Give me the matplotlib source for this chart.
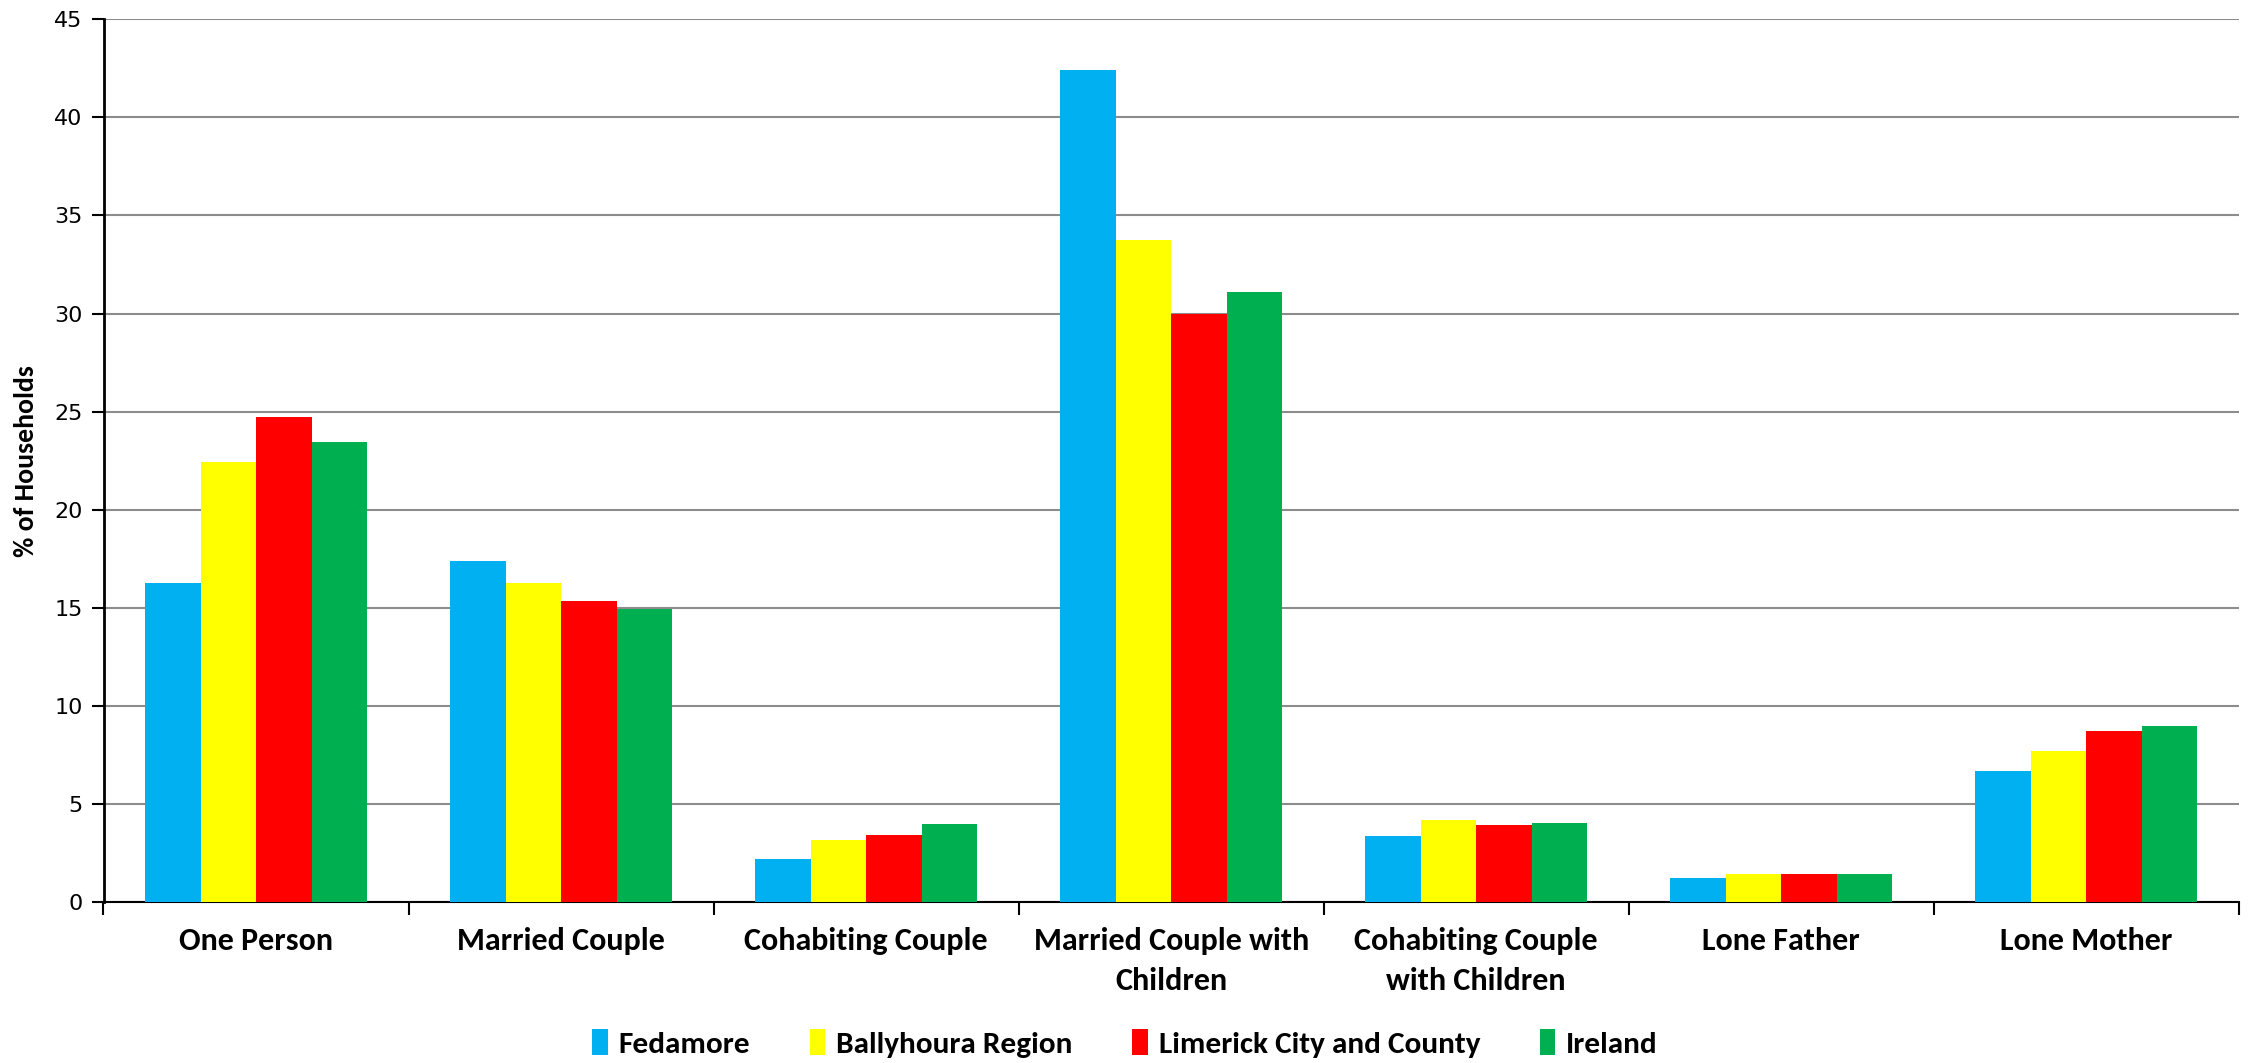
import matplotlib
matplotlib.use("Agg")
import matplotlib.pyplot as plt
import numpy as np

categories = ["One Person", "Married Couple", "Cohabiting Couple", "Married Couple with\nChildren",
              "Cohabiting Couple\nwith Children", "Lone Father", "Lone Mother"]
series_names = ["Fedamore", "Ballyhoura Region", "Limerick City and County", "Ireland"]
fedamore = [16.3, 17.4, 2.2, 42.4, 3.4, 1.26, 6.7]
ballyhoura = [22.45, 16.3, 3.2, 33.75, 4.22, 1.43, 7.7]
limerick = [24.72, 15.37, 3.45, 29.97, 3.96, 1.46, 8.76]
ireland = [23.45, 14.95, 4.01, 31.1, 4.05, 1.43, 9.0]
yticks = [0, 5, 10, 15, 20, 25, 30, 35, 40, 45]

colors = ["#00B0F0", "#FFFF00", "#FF0000", "#00B050"]
narrow = ["Carlito", "Fira Sans Condensed", "DejaVu Sans"]

fig = plt.figure(figsize=(22.5, 10.63), dpi=100)
ax = fig.add_axes([0.046, 0.151, 0.949, 0.831])

x = np.arange(len(categories))
bw = 0.182
data = [fedamore, ballyhoura, limerick, ireland]
for i, (vals, name, c) in enumerate(zip(data, series_names, colors)):
    ax.bar(x + (i - 1.5) * bw, vals, width=bw, color=c, label=name, zorder=3)

ax.set_xlim(-0.5, len(categories) - 0.5)
ax.set_ylim(0, 45)
ax.set_yticks(yticks)
ax.set_yticklabels([str(v) for v in yticks], fontsize=16)
ax.yaxis.grid(True, color="#8c8c8c", linewidth=1.5, zorder=0)
ax.set_axisbelow(True)

ax.set_xticks(np.arange(-0.5, len(categories) + 0.5, 1))
ax.set_xticklabels([])
ax.set_xticks(x, minor=True)
ax.set_xticklabels(categories, minor=True, fontsize=23, fontweight="bold", family=narrow,
                   linespacing=1.5)
ax.tick_params(axis="x", which="minor", length=0, pad=18)
ax.tick_params(axis="x", which="major", length=9, width=1.5, direction="out")
ax.tick_params(axis="y", length=9, width=1.5, direction="out", pad=6)

for s in ["top", "right"]:
    ax.spines[s].set_visible(False)
ax.spines["left"].set_linewidth(2)
ax.spines["bottom"].set_linewidth(1.5)

ax.set_ylabel("% of Households", fontsize=20, fontweight="bold", family=narrow, labelpad=12)

leg = fig.legend(loc="center", bbox_to_anchor=(0.5, 0.018), ncol=4, frameon=False,
                 prop={"size": 22.5, "weight": "bold", "family": narrow},
                 handlelength=0.5, handleheight=0.9, handletextpad=0.35, columnspacing=1.9)

fig.savefig("out.png", dpi=100)
